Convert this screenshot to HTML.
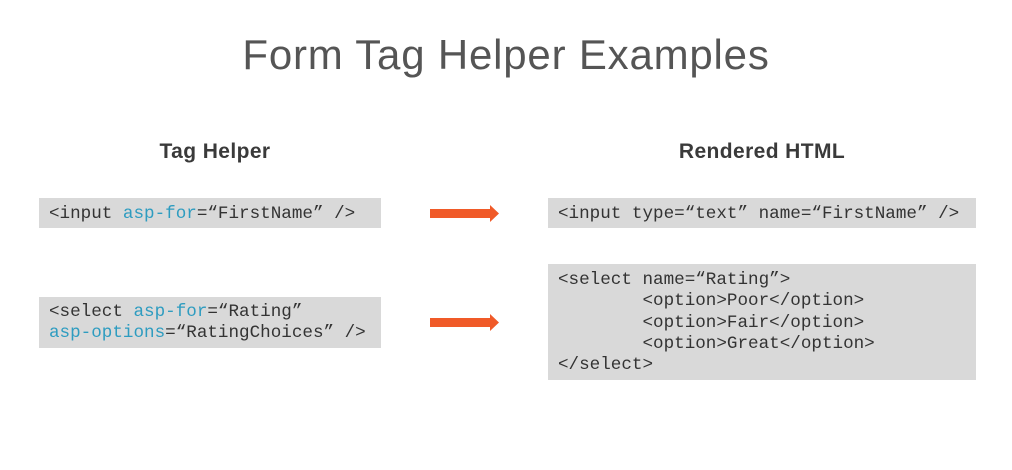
<!DOCTYPE html>
<html><head><style>
body{margin:0;width:1012px;height:470px;background:#fff;position:relative;overflow:hidden;font-family:"Liberation Sans",sans-serif;color:#444}
.t{position:absolute;left:0;width:1012px;text-align:center;top:31px;font-size:42px;font-weight:300;color:#555;letter-spacing:0.8px}
.h{position:absolute;font-size:21px;font-weight:bold;color:#3a3a3a;text-align:center;width:300px;top:140px;letter-spacing:0.4px}
.b{position:absolute;background:#d9d9d9;font-family:"Liberation Mono",monospace;font-size:17.6px;line-height:21.3px;color:#333;white-space:pre;padding-left:10px;box-sizing:border-box}
.c{color:#2e9cc0}
svg{position:absolute}
</style></head><body>
<div class="t">Form Tag Helper Examples</div>
<div class="h" style="left:65px">Tag Helper</div>
<div class="h" style="left:612px">Rendered HTML</div>
<div class="b" style="left:39px;top:198px;width:342px;height:30px;padding-top:6px">&lt;input <span class="c">asp-for</span>=“FirstName” /&gt;</div>
<div class="b" style="left:39px;top:297px;width:342px;height:51px;padding-top:5px">&lt;select <span class="c">asp-for</span>=“Rating”
<span class="c">asp-options</span>=“RatingChoices” /&gt;</div>
<div class="b" style="left:548px;top:198px;width:428px;height:30px;padding-top:6px">&lt;input type=“text” name=“FirstName” /&gt;</div>
<div class="b" style="left:548px;top:264px;width:428px;height:116px;padding-top:6px">&lt;select name=“Rating”&gt;
        &lt;option&gt;Poor&lt;/option&gt;
        &lt;option&gt;Fair&lt;/option&gt;
        &lt;option&gt;Great&lt;/option&gt;
&lt;/select&gt;</div>
<svg style="left:430px;top:204px" width="70" height="20"><polygon points="0,5 60,5 60,1 69,9.5 60,18 60,14 0,14" fill="#f05a28"/></svg>
<svg style="left:430px;top:313px" width="70" height="20"><polygon points="0,5 60,5 60,1 69,9.5 60,18 60,14 0,14" fill="#f05a28"/></svg>
</body></html>
